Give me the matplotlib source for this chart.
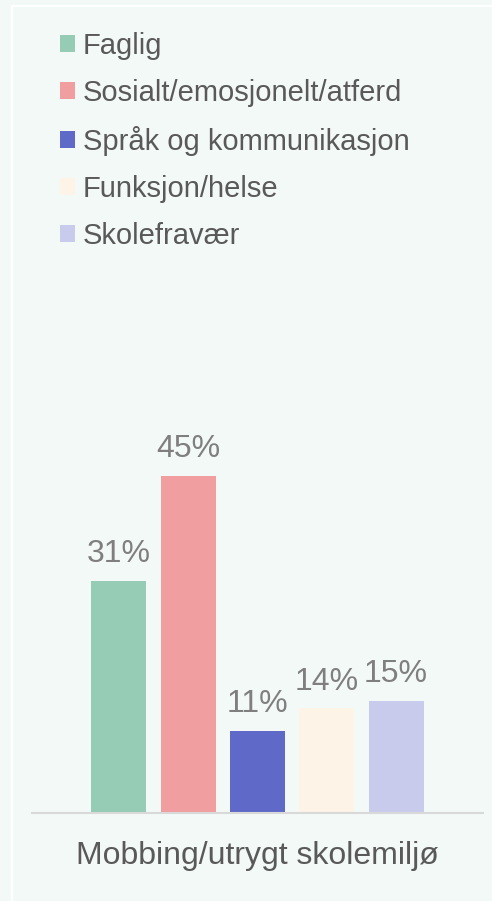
import matplotlib.pyplot as plt
from matplotlib.patches import Rectangle

# Data
category = 'Mobbing/utrygt skolemiljø'
series = ['Faglig', 'Sosialt/emosjonelt/atferd', 'Språk og kommunikasjon',
          'Funksjon/helse', 'Skolefravær']
values = [31, 45, 11, 14, 15]
colors = ['#96cbb5', '#f09ea0', '#5f69c8', '#fef3e7', '#c8cbeb']

bg = '#f3f9f7'
plt.rcParams['font.family'] = ['Liberation Sans', 'DejaVu Sans']

W, H = 492, 901
fig = plt.figure(figsize=(W/100, H/100), dpi=100)
fig.patch.set_facecolor(bg)

# white panel border
fig.patches.append(Rectangle((12/W, -0.01), 1.0, (H-6)/H + 0.01, transform=fig.transFigure,
                             fill=False, edgecolor='white', linewidth=1.5))

# axes: x from 32 to 483 px, baseline at 813 px, 7.5 px per %
left, right, base, top = 32, 483, 813, 300
ax = fig.add_axes([left/W, (H-base)/H, (right-left)/W, (base-top)/H])
ax.set_facecolor('none')

step = 69.3
width = 55/step
xs = list(range(len(values)))
bars = []
for i, (v, c, s) in enumerate(zip(values, colors, series)):
    b = ax.bar(xs[i], v, width=width, color=c, label=s)
    bars.append(b)
    ax.bar_label(b, labels=[f'{v}%'], padding=8, fontsize=23, color='#7f7f7f')

half = (right-left)/step/2
ax.set_xlim(2-half, 2+half)
ax.set_ylim(0, (base-top)/7.5)

for sp in ['top', 'right', 'left']:
    ax.spines[sp].set_visible(False)
ax.spines['bottom'].set_color('#d9d9d9')
ax.spines['bottom'].set_linewidth(1.5)
ax.set_yticks([])
ax.set_xticks([2])
ax.set_xticklabels([category], fontsize=23, color='#595959')
ax.tick_params(axis='x', length=0, pad=20.5)

leg = fig.legend(handles=[b[0] for b in bars], labels=series,
                 loc='upper left', bbox_to_anchor=(60/W, 1 - 32/H),
                 frameon=False, fontsize=21, labelcolor='#595959',
                 handlelength=0.51, handleheight=0.51, handletextpad=0.27,
                 labelspacing=0.65, borderpad=0, borderaxespad=0)

fig.savefig('out.png', dpi=100, facecolor=bg)
